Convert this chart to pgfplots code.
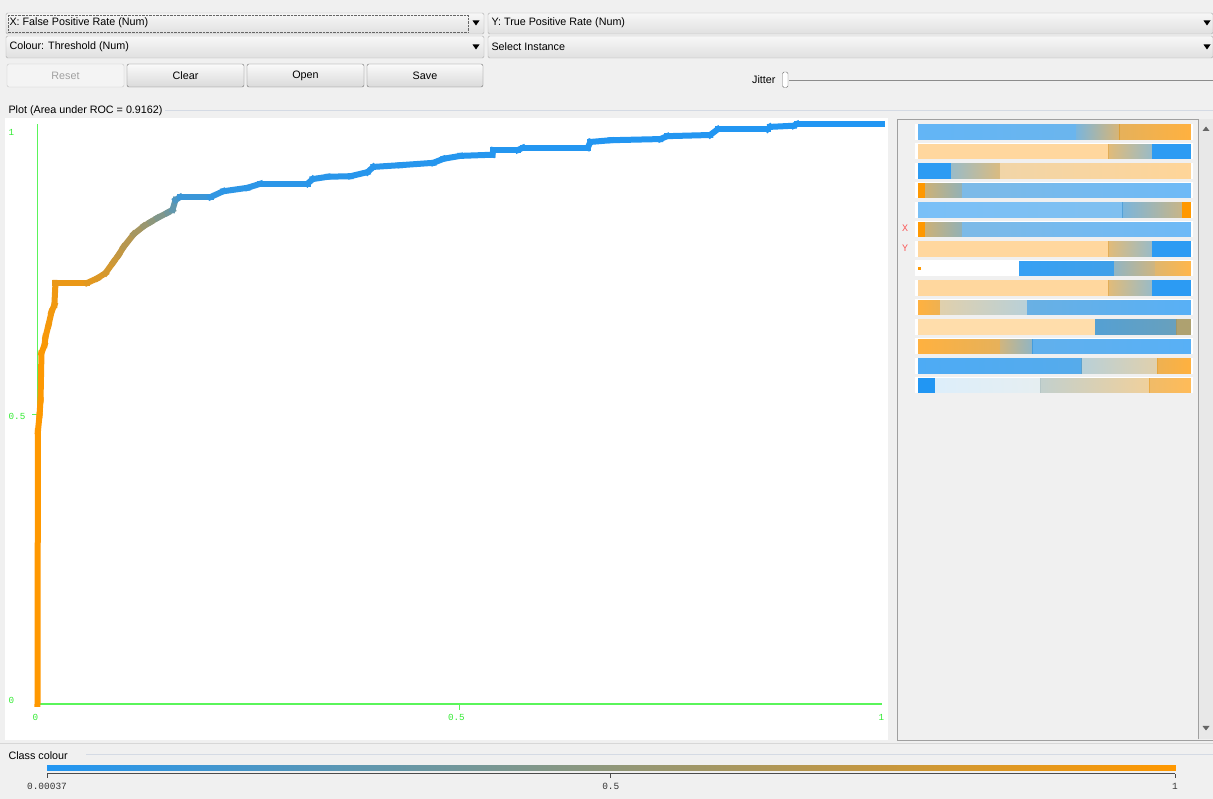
\documentclass[border=0pt]{standalone}
\usepackage{fontspec}
\setmainfont{Liberation Sans}
\newfontfamily\monof{Liberation Mono}
\usepackage{pgfplots}
\pgfplotsset{compat=1.18}

\definecolor{guibg}{RGB}{240,240,240}
\definecolor{wkblue}{RGB}{33,150,243}
\definecolor{wkorange}{RGB}{255,152,0}
\definecolor{axgreen}{RGB}{90,245,90}
\definecolor{labgreen}{RGB}{50,235,50}
\definecolor{btnborder}{RGB}{112,112,112}
\definecolor{cbborder}{RGB}{172,172,172}
\definecolor{panelborder}{RGB}{160,160,160}
\definecolor{xyred}{RGB}{250,90,90}
\definecolor{cbtop}{RGB}{247,247,247}
\definecolor{cbbot}{RGB}{224,224,224}
\definecolor{btntop}{RGB}{250,250,250}
\definecolor{btnbot}{RGB}{218,218,218}
\definecolor{disborder}{RGB}{200,200,200}
\definecolor{disfill}{RGB}{244,244,244}
\definecolor{distext}{RGB}{160,160,160}
\definecolor{titleline}{RGB}{212,218,228}
\definecolor{scrollbg}{RGB}{232,232,232}
\definecolor{sepline}{RGB}{215,215,215}

\pgfplotsset{
  colormap={weka}{rgb255=(33,150,243) rgb255=(255,152,0)},
  colormap name=weka,
}
\tikzset{ticklab/.style={font=\monof\fontsize{9.3}{10}\selectfont, text=labgreen, inner sep=0pt}}

% one shaded segment of an attribute strip: row, x0, x1, meta0, meta1, opacity
\newcommand\seg[6]{%
  \pgfmathsetmacro\ylo{14-#1+0.12}%
  \pgfmathsetmacro\yhi{14-#1+0.88}%
  \edef\tmp{\noexpand\addplot[patch, patch type=rectangle, shader=interp,
      point meta=explicit, fill opacity=#6, draw=none]
      coordinates {(#2,\ylo) [#4] (#3,\ylo) [#5] (#3,\yhi) [#5] (#2,\yhi) [#4]};}%
  \tmp}

\begin{document}
\begin{tikzpicture}[font=\fontsize{10.8}{13}\selectfont]
\begin{scope}[x=1bp, y=1bp]
\path[use as bounding box] (0,0) rectangle (1213,799);
\fill[guibg] (0,0) rectangle (1213,799);

% ---- selector combo boxes ----
\tikzset{combo/.style={top color=cbtop, bottom color=cbbot, draw=cbborder, rounded corners=1.5}}
\path[combo] (6,765) rectangle (484,786);
\draw[densely dotted, black!60] (8,767) rectangle (468,784);
\node[anchor=west] at (6,776) {X: False Positive Rate (Num)};
\fill (472.5,778.5) -- (479.5,778.5) -- (476,773.5) -- cycle;

\path[combo] (488,765) rectangle (1213,786);
\node[anchor=west] at (488,776) {Y: True Positive Rate (Num)};
\fill (1203.5,778.5) -- (1210.5,778.5) -- (1207,773.5) -- cycle;

\path[combo] (6,741) rectangle (484,763);
\node[anchor=west] at (6,752) {Colour: Threshold (Num)};
\fill (472.5,754.5) -- (479.5,754.5) -- (476,749.5) -- cycle;

\path[combo] (488,741) rectangle (1213,763);
\node[anchor=west] at (488,752) {Select Instance};
\fill (1203.5,754.5) -- (1210.5,754.5) -- (1207,749.5) -- cycle;

% ---- buttons ----
\tikzset{btn/.style={top color=btntop, bottom color=btnbot, draw=btnborder, rounded corners=2}}
\path[draw=disborder, fill=disfill, rounded corners=2] (7,712) rectangle (124,735);
\node[text=distext] at (65.5,723.5) {Reset};
\path[btn] (127,712) rectangle (244,735);
\node at (185.5,723.5) {Clear};
\path[btn] (247,712) rectangle (364,735);
\node at (305.5,723.5) {Open};
\path[btn] (367,712) rectangle (483,735);
\node at (425,723.5) {Save};

% ---- jitter slider ----
\node[anchor=east] at (779,719) {Jitter};
\draw[black!45] (789,719) -- (1213,719);
\draw[black!55, fill=white, rounded corners=1.5] (782.5,711.5) rectangle (788,727);

% ---- plot panel ----
\node[anchor=west] at (5,688) {Plot (Area under ROC = 0.9162)};
\draw[titleline] (165,689) -- (1213,689);
\fill[white] (5,59) rectangle (888,681);

% ---- attribute panel ----
\draw[panelborder, fill=guibg] (897,59) rectangle (1213,680);
\fill[scrollbg] (1198,59.5) rectangle (1212.5,679.5);
\draw[panelborder] (1198,59.5) -- (1198,679.5);
\fill[black!60] (1202.5,668) -- (1209.5,668) -- (1206,672.5) -- cycle;
\fill[black!60] (1202.5,73) -- (1209.5,73) -- (1206,68.5) -- cycle;
\node[text=xyred, font=\monof\fontsize{10}{11}\selectfont] at (905,571) {X};
\node[text=xyred, font=\monof\fontsize{10}{11}\selectfont] at (905,551) {Y};

% ---- class colour strip ----
\draw[sepline] (0,56) -- (1213,56);
\node[anchor=west] at (5,43) {Class colour};
\draw[titleline] (86,45) -- (1213,45);
\end{scope}

% ================= ROC curve =================
\begin{axis}[
  at={(37.5bp,95bp)}, anchor=south west,
  width=844bp, height=580bp, scale only axis,
  xmin=0, xmax=1, ymin=0, ymax=1,
  clip=false, hide axis,
  point meta min=0, point meta max=1,
]
% green axis lines, the two middle ticks and the scale numbers
\draw[axgreen, line width=1.4bp] (axis cs:0,0) -- (axis cs:1,0);
\draw[axgreen, line width=1.5bp] (axis cs:0,0) -- (axis cs:0,1);
\draw[axgreen, line width=0.9bp] (axis cs:0.5,0) -- (axis cs:0.5,-0.0105);
\draw[axgreen, line width=0.9bp] (axis cs:0,0.5) -- (axis cs:-0.0065,0.5);
\node[ticklab, anchor=west] at (axis cs:-0.0344,0.986) {1};
\node[ticklab, anchor=west] at (axis cs:-0.0344,0.4966) {0.5};
\node[ticklab, anchor=west] at (axis cs:-0.0344,0.006) {0};
\node[ticklab] at (axis cs:-0.0024,-0.024) {0};
\node[ticklab] at (axis cs:0.4964,-0.024) {0.5};
\node[ticklab] at (axis cs:1.0,-0.024) {1};
\addplot[mesh, point meta=explicit, line width=6bp, line cap=rect]
  table[x=fpr, y=tpr, meta=t] {
  fpr     tpr    t
  0       0      1.00
  0.0005  0.470  1.00
  0.0024  0.498  0.99
  0.0036  0.524  0.99
  0.0047  0.605  0.98
  0.0083  0.619  0.97
  0.0095  0.633  0.96
  0.0130  0.653  0.95
  0.0166  0.676  0.94
  0.0200  0.688  0.93
  0.0213  0.726  0.92
  0.0590  0.726  0.88
  0.0710  0.734  0.85
  0.0806  0.743  0.82
  0.0900  0.762  0.78
  0.0960  0.774  0.74
  0.1020  0.788  0.70
  0.1140  0.810  0.63
  0.1260  0.824  0.56
  0.1340  0.831  0.51
  0.1420  0.838  0.46
  0.1540  0.847  0.39
  0.1600  0.852  0.33
  0.1635  0.869  0.24
  0.1690  0.874  0.14
  0.2050  0.874  0.08
  0.2200  0.884  0.06
  0.2490  0.890  0.05
  0.2640  0.897  0.05
  0.3200  0.897  0.04
  0.3260  0.905  0.04
  0.3440  0.909  0.04
  0.3710  0.910  0.03
  0.3910  0.917  0.03
  0.3980  0.926  0.03
  0.4300  0.929  0.03
  0.4690  0.933  0.02
  0.4810  0.940  0.02
  0.5010  0.945  0.02
  0.5390  0.947  0.02
  0.5400  0.955  0.02
  0.5690  0.955  0.01
  0.5750  0.959  0.01
  0.6520  0.959  0.01
  0.6550  0.969  0.01
  0.6790  0.972  0.01
  0.7380  0.974  0.01
  0.7460  0.979  0.01
  0.7970  0.981  0.005
  0.8060  0.991  0.005
  0.8650  0.991  0.003
  0.8680  0.995  0.002
  0.8960  0.997  0.001
  0.9000  1.000  0.0004
  1.0000  1.000  0.0004
};
\end{axis}

% ================= attribute strips =================
\begin{axis}[
  at={(918bp,404bp)}, anchor=south west,
  width=272bp, height=273bp, scale only axis,
  xmin=0, xmax=1, ymin=0, ymax=14,
  hide axis, clip=false,
  point meta min=0, point meta max=1,
]
\pgfplotsinvokeforeach{0,...,13}{
  \fill[white] (axis cs:-0.011,#1+0.08) rectangle (axis cs:1.011,#1+0.92);
}
% row 1
\seg{1}{0}{0.58}{0}{0.05}{0.7}
\seg{1}{0.58}{0.74}{0.15}{0.75}{0.7}
\seg{1}{0.74}{1}{0.85}{1}{0.75}
% row 2
\seg{2}{0}{0.70}{1}{1}{0.38}
\seg{2}{0.70}{0.86}{0.8}{0.3}{0.65}
\seg{2}{0.86}{1}{0}{0}{0.95}
% row 3
\seg{3}{0}{0.12}{0}{0}{0.95}
\seg{3}{0.12}{0.30}{0.3}{0.75}{0.65}
\seg{3}{0.30}{1}{0.85}{1}{0.4}
% row 4
\seg{4}{0}{0.025}{1}{1}{1}
\seg{4}{0.025}{0.16}{0.7}{0.35}{0.75}
\seg{4}{0.16}{1}{0.1}{0}{0.65}
% row 5
\seg{5}{0}{0.75}{0}{0.05}{0.6}
\seg{5}{0.75}{0.97}{0.15}{0.65}{0.7}
\seg{5}{0.97}{1}{1}{1}{1}
% row 6
\seg{6}{0}{0.025}{1}{1}{1}
\seg{6}{0.025}{0.16}{0.7}{0.35}{0.75}
\seg{6}{0.16}{1}{0.1}{0}{0.65}
% row 7
\seg{7}{0}{0.70}{1}{1}{0.38}
\seg{7}{0.70}{0.86}{0.8}{0.3}{0.65}
\seg{7}{0.86}{1}{0}{0}{0.95}
% row 8
\seg{8}{0.37}{0.72}{0}{0.05}{0.9}
\seg{8}{0.72}{0.87}{0.3}{0.7}{0.7}
\seg{8}{0.87}{1}{0.8}{1}{0.7}
\addplot[only marks, mark=square*, mark size=1bp, color=wkorange] coordinates {(0.006,6.5)};
% row 9
\seg{9}{0}{0.70}{1}{1}{0.38}
\seg{9}{0.70}{0.86}{0.8}{0.3}{0.65}
\seg{9}{0.86}{1}{0}{0}{0.95}
% row 10
\seg{10}{0}{0.08}{1}{0.9}{0.75}
\seg{10}{0.08}{0.40}{0.7}{0.3}{0.45}
\seg{10}{0.40}{1}{0.1}{0}{0.75}
% row 11
\seg{11}{0}{0.65}{1}{1}{0.33}
\seg{11}{0.65}{0.95}{0.15}{0.25}{0.9}
\seg{11}{0.95}{1}{0.6}{0.6}{0.9}
% row 12
\seg{12}{0}{0.30}{1}{0.85}{0.75}
\seg{12}{0.30}{0.42}{0.7}{0.3}{0.7}
\seg{12}{0.42}{1}{0.05}{0}{0.75}
% row 13
\seg{13}{0}{0.60}{0}{0.05}{0.8}
\seg{13}{0.60}{0.88}{0.3}{0.7}{0.45}
\seg{13}{0.88}{1}{0.9}{1}{0.75}
% row 14
\seg{14}{0}{0.06}{0}{0}{1}
\seg{14}{0.06}{0.45}{0.05}{0.3}{0.16}
\seg{14}{0.45}{0.85}{0.4}{0.85}{0.45}
\seg{14}{0.85}{1}{0.9}{1}{0.65}
\end{axis}

% ================= class colour scale =================
\begin{axis}[
  at={(47bp,25bp)}, anchor=south west,
  width=1128bp, height=9bp, scale only axis,
  xmin=0.00037, xmax=1, ymin=0, ymax=9,
  clip=false,
  axis x line=bottom, axis y line=none,
  axis line style={-, draw=black!70, line width=1bp},
  xtick={0.00037,0.5,1}, xticklabels={0.00037,0.5,1},
  tick align=outside, major tick length=4bp,
  tick style={draw=black!70, line width=0.8bp},
  xticklabel style={font=\monof\fontsize{9.5}{10}\selectfont, text=black!80, anchor=north, inner sep=0pt, yshift=-5bp},
  point meta min=0.00037, point meta max=1,
]
\addplot[patch, patch type=rectangle, shader=interp, point meta=x]
  coordinates {(0.00037,3) (1,3) (1,9) (0.00037,9)};
\end{axis}
\end{tikzpicture}
\end{document}
